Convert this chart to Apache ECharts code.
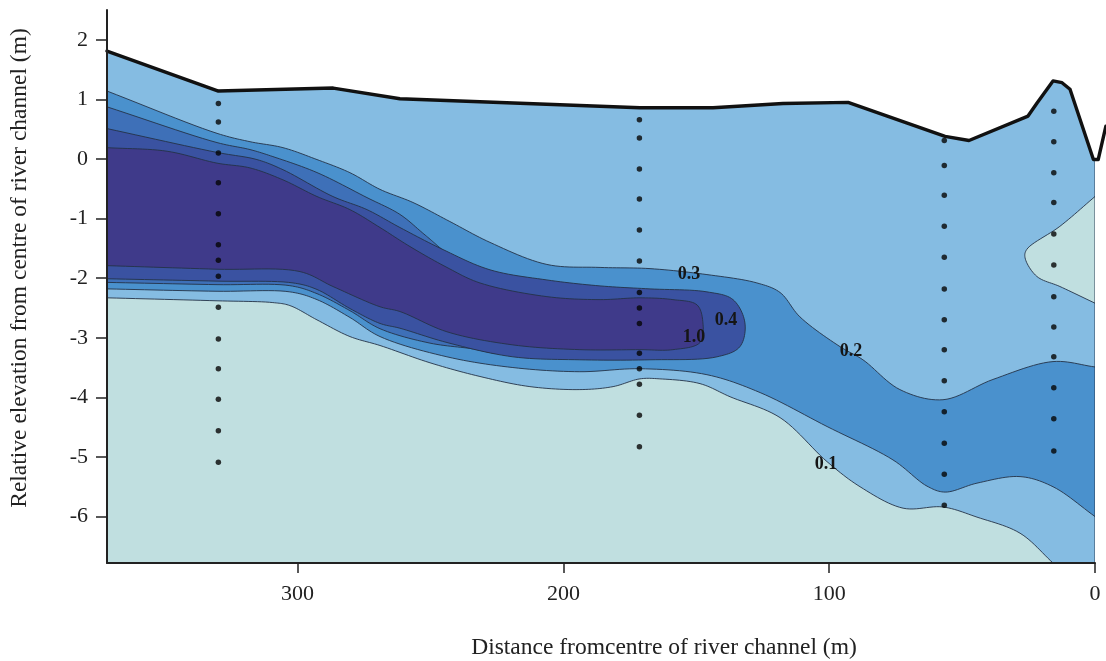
<!DOCTYPE html>
<html>
<head>
<meta charset="utf-8">
<script src="https://cdn.jsdelivr.net/npm/echarts@6/dist/echarts.min.js"></script>
<style>
  html, body { margin: 0; padding: 0; background: #ffffff; }
  #chart { width: 1106px; height: 661px; }
</style>
</head>
<body>
<div id="chart"></div>
<script>
// Axis ticks (m)
const distanceTicks = [0, 100, 200, 300];
const elevationTicks = [-6, -5, -4, -3, -2, -1, 0, 1, 2];

// Ground surface profile: [distance from channel centre (m), relative elevation (m)]
const groundSurface = [
  [371.7, 1.81], [329.8, 1.14], [286.6, 1.19], [261.5, 1.01], [171.2, 0.86],
  [143.7, 0.86], [117.4, 0.93], [92.9, 0.95], [56.4, 0.38], [47.4, 0.31],
  [25.2, 0.72], [21.8, 0.94], [15.8, 1.31], [12.4, 1.28], [9.4, 1.17],
  [0.6, -0.01], [-1.2, -0.01], [-4.1, 0.55]
];

// 0.1 contour (lower body) and the small closed pocket beside the channel
const contour01 = [
  [371.7, -2.33], [330.3, -2.38], [309.3, -2.41], [302.9, -2.46], [292.7, -2.70],
  [280.3, -2.98], [269.0, -3.13], [250.2, -3.42], [231.4, -3.65], [212.6, -3.82],
  [193.8, -3.87], [181.3, -3.82], [171.2, -3.69], [163.7, -3.69], [148.6, -3.77],
  [137.3, -3.99], [118.5, -4.34], [100.8, -5.08], [88.4, -5.50], [72.2, -5.86],
  [57.2, -5.84], [44.4, -6.01], [28.2, -6.28], [15.8, -6.78]
];
const contour01Pocket = [
  [0, -0.63], [13.2, -1.13], [25.7, -1.52], [26.3, -1.66], [21.9, -1.97],
  [13.2, -2.14], [0, -2.42]
];

// 0.2 / 0.3 band: upper edge (left to right) and lower edge (right to left)
const contour02Upper = [
  [371.7, 1.14], [330.3, 0.43], [317.9, 0.29], [305.5, 0.19], [292.7, -0.01],
  [280.3, -0.23], [269.0, -0.51], [256.6, -0.73], [242.7, -1.05], [227.6, -1.40],
  [206.2, -1.77], [186.2, -1.82], [167.4, -1.84], [146.0, -1.94], [127.2, -2.08],
  [118.5, -2.24], [111.0, -2.65], [95.9, -3.15], [87.3, -3.37], [73.4, -3.87],
  [57.2, -4.04], [38.4, -3.70], [15.8, -3.40], [0, -3.49]
];
const contour02Lower = [
  [0, -6.00], [15.8, -5.50], [28.2, -5.33], [44.4, -5.44], [56.4, -5.59],
  [63.2, -5.49], [76.0, -5.05], [100.8, -4.49], [126.0, -3.92], [146.0, -3.62],
  [171.2, -3.52], [193.8, -3.57], [219.0, -3.50], [243.8, -3.32], [269.0, -2.98],
  [280.3, -2.66], [292.7, -2.36], [302.9, -2.23], [330.3, -2.22], [371.7, -2.18]
];

// intermediate band that thins out and ends under the 0.4 contour
const contourMid = [
  [371.7, 0.875], [330.3, 0.275], [317.9, 0.158], [309.3, 0.040], [292.7, -0.228],
  [273.9, -0.648], [261.5, -0.93], [253.0, -1.24], [247.5, -1.45], [243.5, -1.62],
  [236.0, -2.30], [229.0, -2.95], [223.9, -3.25], [235.0, -3.18], [250.2, -3.09],
  [269.0, -2.848], [280.3, -2.546], [292.7, -2.260], [302.9, -2.126], [330.3, -2.109],
  [371.7, -2.071]
];

// 0.4 contour (closed against the left edge)
const contour04 = [
  [371.7, 0.51], [330.3, 0.11], [315.3, -0.01], [305.5, -0.18], [286.7, -0.63],
  [273.9, -0.85], [261.5, -1.15], [245.3, -1.52], [227.6, -1.86], [206.2, -2.03],
  [186.2, -2.13], [167.4, -2.18], [146.0, -2.23], [136.2, -2.36], [131.7, -2.75],
  [133.6, -3.15], [142.2, -3.32], [167.4, -3.37], [193.8, -3.37], [219.0, -3.32],
  [243.8, -3.08], [261.5, -2.84], [269.0, -2.76], [280.3, -2.51], [292.7, -2.19],
  [301.7, -2.08], [330.3, -2.05], [371.7, -2.01]
];

// 1.0 contour (closed against the left edge)
const contour10 = [
  [371.7, 0.19], [349.1, 0.13], [330.3, -0.07], [317.9, -0.15], [305.5, -0.35],
  [292.7, -0.63], [280.3, -0.85], [269.0, -1.15], [257.7, -1.47], [243.8, -1.82],
  [231.4, -2.08], [206.2, -2.31], [186.2, -2.36], [171.2, -2.33], [158.8, -2.36],
  [149.7, -2.45], [147.5, -2.75], [148.6, -3.08], [158.8, -3.20], [171.2, -3.20],
  [193.8, -3.20], [219.0, -3.12], [243.8, -2.90], [261.5, -2.56], [269.0, -2.48],
  [286.7, -2.14], [299.1, -1.89], [330.3, -1.85], [371.7, -1.79]
];

// Contour value labels: [text, distance, elevation]
const contourLabels = [
  ['0.3', 152.7, -1.93],
  ['0.4', 138.8, -2.70],
  ['1.0', 150.9, -3.00],
  ['0.2', 91.8, -3.23],
  ['0.1', 101.2, -5.12]
];

// Sampling boreholes: distance (m) and sample elevations (m)
const boreholeDistance = [329.8, 171.4, 56.7, 15.5];
const borehole1 = [0.93, 0.62, 0.10, -0.40, -0.92, -1.44, -1.70, -1.97, -2.49, -3.02, -3.52, -4.03, -4.56, -5.09];
const borehole2 = [0.66, 0.35, -0.17, -0.67, -1.19, -1.71, -2.24, -2.50, -2.76, -3.26, -3.52, -3.78, -4.30, -4.83];
const borehole3 = [0.31, -0.11, -0.61, -1.13, -1.65, -2.18, -2.70, -3.20, -3.72, -4.24, -4.77, -5.29, -5.81];
const borehole4 = [0.80, 0.29, -0.23, -0.73, -1.26, -1.78, -2.31, -2.82, -3.32, -3.84, -4.36, -4.90];

const X_MIN = 0, X_MAX = 371.7, Y_MIN = -6.78, Y_MAX = 2.5;
const LINE = '#243247';
const SERIF = 'Liberation Serif';

const samplePoints = [];
[borehole1, borehole2, borehole3, borehole4].forEach(function (col, i) {
  col.forEach(function (y) { samplePoints.push([boreholeDistance[i], y]); });
});

// Centripetal Catmull-Rom through pixel points, so contour lines bend smoothly
function smoothCurve(pts, steps) {
  if (pts.length < 3) return pts.slice();
  const n = pts.length;
  const ext = [
    [2 * pts[0][0] - pts[1][0], 2 * pts[0][1] - pts[1][1]]
  ].concat(pts, [[2 * pts[n - 1][0] - pts[n - 2][0], 2 * pts[n - 1][1] - pts[n - 2][1]]]);
  function knot(a, b) {
    const d = Math.hypot(b[0] - a[0], b[1] - a[1]);
    return Math.max(Math.sqrt(d), 1e-4);
  }
  function lerp(a, b, ta, tb, t) {
    const w = (t - ta) / (tb - ta);
    return [a[0] + (b[0] - a[0]) * w, a[1] + (b[1] - a[1]) * w];
  }
  const out = [];
  for (let i = 1; i < ext.length - 2; i++) {
    const p0 = ext[i - 1], p1 = ext[i], p2 = ext[i + 1], p3 = ext[i + 2];
    const t0 = 0, t1 = t0 + knot(p0, p1), t2 = t1 + knot(p1, p2), t3 = t2 + knot(p2, p3);
    for (let s = 0; s < steps; s++) {
      const t = t1 + (t2 - t1) * (s / steps);
      const a1 = lerp(p0, p1, t0, t1, t), a2 = lerp(p1, p2, t1, t2, t), a3 = lerp(p2, p3, t2, t3, t);
      const b1 = lerp(a1, a2, t0, t2, t), b2 = lerp(a2, a3, t1, t3, t);
      out.push(lerp(b1, b2, t1, t2, t));
    }
  }
  out.push(pts[n - 1]);
  return out;
}

// A filled region: each part is [points, smoothed?]; parts are joined by straight edges
function areaSeries(parts, fill, z) {
  return {
    type: 'custom',
    coordinateSystem: 'cartesian2d',
    clip: true,
    silent: true,
    z: z,
    data: [[parts[0][0][0][0], parts[0][0][0][1]]],
    renderItem: function (params, api) {
      let pts = [];
      parts.forEach(function (part) {
        const px = part[0].map(function (p) { return api.coord(p); });
        pts = pts.concat(part[1] ? smoothCurve(px, 12) : px);
      });
      return {
        type: 'polygon',
        shape: { points: pts },
        style: { fill: fill, stroke: LINE, lineWidth: 0.9, lineJoin: 'round' }
      };
    }
  };
}

// ground body below the surface, closed on the channel-centre edge
const surfaceInPlot = groundSurface.filter(function (p) { return p[0] >= 0.6; });

const chart = echarts.init(document.getElementById('chart'), null, { renderer: 'canvas' });

chart.setOption({
  animation: false,
  backgroundColor: '#ffffff',
  grid: { left: 107, right: 11, top: 10, bottom: 98 },
  xAxis: {
    type: 'value',
    inverse: true,
    min: X_MIN,
    max: X_MAX,
    interval: 100,
    z: 50,
    axisLine: { show: true, onZero: false, lineStyle: { color: '#222', width: 2 } },
    axisTick: { show: true, inside: false, length: 10, customValues: distanceTicks, lineStyle: { color: '#222', width: 1.5 } },
    axisLabel: { customValues: distanceTicks, margin: 20, color: '#222', fontSize: 22, fontFamily: SERIF },
    splitLine: { show: false }
  },
  yAxis: {
    type: 'value',
    min: Y_MIN,
    max: Y_MAX,
    z: 50,
    axisLine: { show: true, onZero: false, lineStyle: { color: '#222', width: 2 } },
    axisTick: { show: true, inside: false, length: 11, customValues: elevationTicks, lineStyle: { color: '#222', width: 1.5 } },
    axisLabel: { customValues: elevationTicks, margin: 19, color: '#222', fontSize: 22, fontFamily: SERIF },
    splitLine: { show: false }
  },
  graphic: [
    {
      type: 'text',
      x: 664, y: 648,
      style: {
        text: 'Distance fromcentre of river channel (m)',
        fill: '#222', fontSize: 23.5, fontFamily: SERIF,
        align: 'center', verticalAlign: 'middle'
      }
    },
    {
      type: 'text',
      x: 20, y: 268,
      rotation: Math.PI / 2,
      style: {
        text: 'Relative elevation from centre of river channel (m)',
        fill: '#222', fontSize: 23.5, fontFamily: SERIF,
        align: 'center', verticalAlign: 'middle'
      }
    }
  ],
  series: [
    areaSeries([[surfaceInPlot, false], [[[X_MIN, -0.01], [X_MIN, Y_MIN], [X_MAX, Y_MIN]], false]], '#85bce2', 2),
    areaSeries([[contour01, true], [[[X_MAX, Y_MIN]], false]], '#c0dfe0', 3),
    areaSeries([[contour01Pocket, true]], '#c0dfe0', 4),
    areaSeries([[contour02Upper, true], [contour02Lower, true]], '#4a91cd', 5),
    areaSeries([[contourMid, true]], '#3e70b8', 6),
    areaSeries([[contour04, true]], '#3a52a1', 7),
    areaSeries([[contour10, true]], '#3f3a8a', 8),
    {
      type: 'scatter',
      z: 10,
      silent: true,
      symbol: 'circle',
      symbolSize: 5.5,
      itemStyle: { color: '#050505' },
      data: samplePoints
    },
    {
      type: 'custom',
      coordinateSystem: 'cartesian2d',
      z: 11,
      silent: true,
      data: contourLabels.map(function (d) { return [d[1], d[2]]; }),
      renderItem: function (params, api) {
        const p = api.coord([api.value(0), api.value(1)]);
        return {
          type: 'text',
          x: p[0], y: p[1],
          style: {
            text: contourLabels[params.dataIndex][0],
            fill: '#151515', fontSize: 18, fontWeight: 'bold', fontFamily: SERIF,
            align: 'center', verticalAlign: 'middle'
          }
        };
      }
    },
    {
      type: 'custom',
      coordinateSystem: 'cartesian2d',
      clip: false,
      silent: true,
      z: 12,
      data: [[groundSurface[0][0], groundSurface[0][1]]],
      renderItem: function (params, api) {
        const pts = groundSurface.map(function (p) { return api.coord(p); });
        return {
          type: 'polyline',
          shape: { points: pts },
          style: { fill: null, stroke: '#111', lineWidth: 3.4, lineJoin: 'round', lineCap: 'round' }
        };
      }
    }
  ]
});
</script>
</body>
</html>
